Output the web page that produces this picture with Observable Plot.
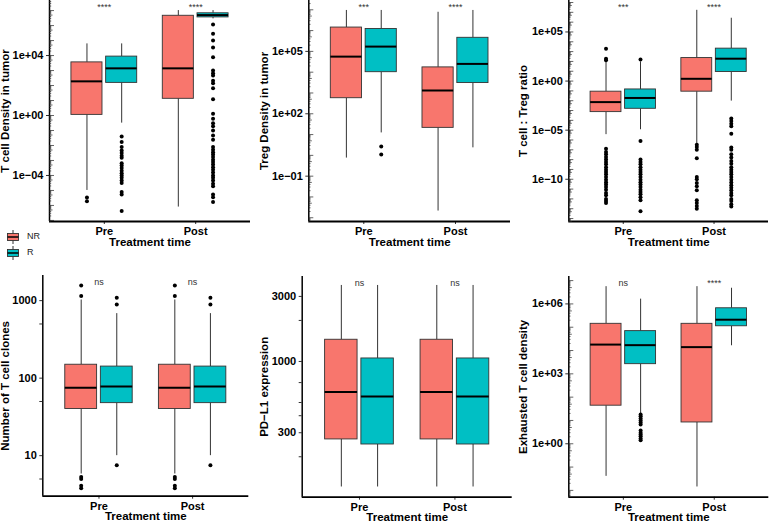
<!DOCTYPE html>
<html><head><meta charset="utf-8">
<script src="https://cdn.jsdelivr.net/npm/d3@7"></script>
<script src="https://cdn.jsdelivr.net/npm/@observablehq/plot@0.6"></script>
<style>
body{margin:0;background:#fff;font-family:"Liberation Sans",Arial,sans-serif;}
#fig{position:relative;width:769px;height:522px;overflow:hidden;background:#fff;}
.panel{position:absolute;}
.panel svg{overflow:visible;background:transparent;}
</style></head><body><div id="fig"></div>
<script>
// ---------- data ----------
const times = ["Pre", "Post"];
const groups = ["NR", "R"];
const groupColors = ["#F8766D", "#00BFC4"];
const xTitle = "Treatment time";

// box stats rows: [time, group, lowerWhisker, q1, median, q3, upperWhisker]
const tcellStats = [
  ["Pre", "NR", 1.0e-5, 1.1, 1.9e2, 3.5e3, 6.0e4],
  ["Pre", "R", 0.31, 1.5e2, 1.4e3, 8.5e3, 6.0e4],
  ["Post", "NR", 7.8e-7, 13, 1.4e3, 4.5e6, 1.0e7],
  ["Post", "R", 2.8e6, 3.5e6, 5.0e6, 6.6e6, 1.0e7]
];
const tcellOutliers = [
  ["Pre", "NR", [3.4e-6, 1.9e-6]],
  ["Pre", "R", [4.0e-2, 1.7e-2, 7.8e-3, 4.7e-3, 3.1e-3, 2.1e-3, 1.5e-3, 6.6e-4, 4.7e-4, 3.2e-4, 2.1e-4, 1.4e-4, 1.0e-4, 7.1e-5, 4.7e-5, 3.1e-5, 7.8e-6, 5.4e-6, 4.2e-7]],
  ["Post", "R", [1.2e6, 2.8e5, 1.0e5, 3.5e4, 7.8e3, 1.0e3, 6.6e2, 4.7e2, 2.1e2, 1.4e2, 66, 12, 1.3, 0.60, 0.31, 0.19, 0.10, 4.7e-2, 2.4e-2, 7.8e-3, 5.1e-3, 3.5e-3, 2.5e-3, 1.7e-3, 1.1e-3, 7.8e-4, 5.4e-4, 3.5e-4, 2.4e-4, 1.6e-4, 1.0e-4, 7.1e-5, 4.7e-5, 2.8e-5, 1.9e-5, 5.4e-6, 3.5e-6, 1.7e-6]]
];
const tcellSig = [["Pre", "****"], ["Post", "****"]];

const tregStats = [
  ["Pre", "NR", 0.74, 5.6e2, 5.6e4, 1.4e6, 9.3e6],
  ["Pre", "R", 12, 1.0e4, 1.7e5, 1.2e6, 9.3e6],
  ["Post", "NR", 2.1e-3, 21, 1.3e3, 1.7e4, 7.6e6],
  ["Post", "R", 2.3, 3.0e3, 2.5e4, 4.5e5, 9.3e6]
];
const tregOutliers = [["Pre", "R", [2.7, 1.1]]];
const tregSig = [["Pre", "***"], ["Post", "****"]];

const ratioStats = [
  ["Pre", "NR", 3.5e-6, 6.9e-4, 7.2e-3, 8.3e-2, 85],
  ["Pre", "R", 1.1e-5, 1.5e-3, 1.9e-2, 0.14, 89],
  ["Post", "NR", 4.3e-7, 8.3e-2, 1.7, 2.2e2, 1.6e7],
  ["Post", "R", 9.1e-3, 8.3, 1.9e2, 2.0e3, 2.5e6]
];
const ratioOutliers = [
  ["Pre", "NR", [2.0e3, 1.9e2, 1.3e2, 1.3e-7, 5.9e-8, 3.5e-8, 1.9e-8, 1.0e-8, 5.6e-9, 3.3e-9, 1.7e-9, 9.5e-10, 5.4e-10, 3.2e-10, 1.7e-10, 9.1e-11, 5.1e-11, 3.0e-11, 1.6e-11, 8.7e-12, 4.0e-12, 2.3e-12, 1.0e-12, 6.0e-13, 3.8e-13]],
  ["Pre", "R", [1.6e2, 7.8e-7, 1.0e-8, 5.6e-9, 3.3e-9, 1.7e-9, 9.5e-10, 5.4e-10, 3.2e-10, 1.7e-10, 9.1e-11, 5.1e-11, 3.0e-11, 1.6e-11, 8.7e-12, 5.0e-12, 2.9e-12, 1.5e-12, 7.1e-13, 5.4e-14]],
  ["Post", "NR", [3.3e-7, 1.9e-7, 1.0e-7, 1.4e-8, 1.7e-10, 9.8e-11, 4.1e-11, 1.9e-11, 7.4e-12, 7.1e-13, 3.8e-13, 1.9e-13, 1.0e-13]],
  ["Post", "R", [1.5e-4, 8.5e-5, 4.6e-5, 2.5e-5, 4.4e-6, 1.7e-7, 1.0e-7, 3.5e-8, 1.6e-8, 7.1e-9, 3.9e-9, 1.7e-9, 9.5e-10, 5.4e-10, 3.2e-10, 1.7e-10, 9.1e-11, 4.8e-11, 2.4e-11, 1.4e-11, 7.4e-12, 3.9e-12, 2.3e-12, 1.0e-12, 6.0e-13, 2.8e-13, 1.7e-13]]
];
const ratioSig = [["Pre", "***"], ["Post", "****"]];

const clonesStats = [
  ["Pre", "NR", 5.8, 40, 75, 149, 1020],
  ["Pre", "R", 10, 47.6, 78, 141, 680],
  ["Post", "NR", 5.8, 40, 75, 149, 1020],
  ["Post", "R", 10, 47.6, 78, 141, 680]
];
const clonesOutliers = [
  ["Pre", "NR", [1570, 1150, 5.3, 5.0, 4.1, 3.8]],
  ["Pre", "R", [1090, 890, 7.5]],
  ["Post", "NR", [1570, 1150, 5.3, 5.0, 4.1, 3.8]],
  ["Post", "R", [1090, 890, 7.5]]
];
const clonesSig = [["Pre", "ns"], ["Post", "ns"]];

const pdl1Stats = [
  ["Pre", "NR", 120, 268, 596, 1443, 3610],
  ["Pre", "R", 120, 246, 553, 1052, 3610],
  ["Post", "NR", 120, 268, 596, 1443, 3610],
  ["Post", "R", 120, 246, 553, 1052, 3610]
];
const pdl1Outliers = [];
const pdl1Sig = [["Pre", "ns"], ["Post", "ns"]];

const exhStats = [
  ["Pre", "NR", 4.0e-2, 43, 1.8e4, 1.4e5, 5.5e6],
  ["Pre", "R", 19.5, 2.6e3, 1.7e4, 6.8e4, 1.6e6],
  ["Post", "NR", 1.4e-2, 8.2, 1.4e4, 1.4e5, 5.5e6],
  ["Post", "R", 1.6e4, 1.1e5, 2.1e5, 6.5e5, 4.7e6]
];
const exhOutliers = [["Pre", "R", [18, 15, 12, 10, 8.2, 6.7, 3.7, 3.0, 2.5, 2.1, 1.7, 1.4]]];
const exhSig = [["Pre", "ns"], ["Post", "****"]];

// tick labels
const tcellTicks = [1e-4, 1, 1e4];
const tregTicks = [1e-1, 1e2, 1e5];
const ratioTicks = [1e-10, 1e-5, 1, 1e5];
const clonesTicks = [10, 100, 1000];
const clonesMinor = [5, 50, 500];
const pdl1Ticks = [300, 1000, 3000];
const pdl1Minor = [200, 400, 500, 700, 2000];
const exhTicks = [1, 1e3, 1e6];

// ---------- helpers ----------
const xDomain = [0.4, 2.6];
const DODGE = 0.19, HALF = 0.17;
const pos = (t, g) => times.indexOf(t) + 1 + (g === groups[0] ? -DODGE : DODGE);
const sci = d => { const e = Math.round(Math.log10(d)); return "1e" + (e < 0 ? "\u2212" : "+") + String(Math.abs(e)).padStart(2, "0"); };
const plain = d => String(d);
function logTicks(domain) {
  const out = [];
  const e0 = Math.floor(Math.log10(domain[0])), e1 = Math.ceil(Math.log10(domain[1]));
  for (let e = e0; e <= e1; e++) for (let k = 1; k <= 9; k++) {
    const v = k * Math.pow(10, e);
    if (v >= domain[0] && v <= domain[1]) out.push({v, len: k === 1 ? 5 : k === 5 ? 3.5 : 2.2});
  }
  return out;
}

const fig = document.getElementById("fig");

function panel(cfg) {
  const {left, top, width, height, mL, mR, mT, mB, domain, majors, fmt, minorOut, inside,
         label, labelOffset, stats, outliers, sig, sigDy, xTitleDy} = cfg;
  const fw = width - mL - mR;
  const boxes = stats.map(([t, g, lo, q1, med, q3, hi]) => ({t, g, lo, q1, med, q3, hi, x: pos(t, g)}));
  const dots = outliers.flatMap(([t, g, vals]) => vals.map(v => ({t, g, v, x: pos(t, g)})));
  const marks = [
    Plot.ruleX(boxes, {x: "x", y1: "lo", y2: "q1", stroke: "#333", strokeWidth: 1}),
    Plot.ruleX(boxes, {x: "x", y1: "q3", y2: "hi", stroke: "#333", strokeWidth: 1}),
    Plot.rect(boxes, {x1: d => d.x - HALF, x2: d => d.x + HALF, y1: "q1", y2: "q3", fill: "g", stroke: "#333", strokeWidth: 0.9}),
    Plot.ruleY(boxes, {y: "med", x1: d => d.x - HALF, x2: d => d.x + HALF, stroke: "#000", strokeWidth: 2}),
    Plot.dot(dots, {x: "x", y: "v", r: 2, fill: "#000", stroke: null}),
    Plot.axisY(majors, {anchor: "left", tickSize: 3, tickPadding: 3, tickFormat: fmt, fontWeight: "bold", fontSize: 11,
      stroke: "#333", fill: "#000", label: null}),
    Plot.text([label], {frameAnchor: "left", dx: -labelOffset, rotate: -90, lineAnchor: "top", textAnchor: "middle",
      text: d => d, fontWeight: "bold", fontSize: 11.5, fill: "#000"}),
    Plot.axisX([1, 2], {anchor: "bottom", tickSize: 3, tickPadding: 2.5, tickFormat: d => times[d - 1],
      fontWeight: "bold", fontSize: 11, stroke: "#333", fill: "#000", label: null}),
    Plot.text([xTitle], {frameAnchor: "bottom", dy: xTitleDy, text: d => d, fontWeight: "bold", fontSize: 11.5, lineAnchor: "middle", fill: "#000"}),
    Plot.text(sig, {x: d => times.indexOf(d[0]) + 1, text: d => d[1], frameAnchor: "top", dy: sigDy, fontSize: 9, fill: "#333", lineAnchor: "middle"}),
    Plot.ruleX([xDomain[0]], {stroke: "#000", strokeWidth: 1.5}),
    Plot.ruleY([domain[0]], {stroke: "#000", strokeWidth: 1.8})
  ];
  if (minorOut) marks.push(Plot.ruleY(minorOut, {insetLeft: -3, insetRight: fw, stroke: "#333", strokeWidth: 1}));
  if (inside) {
    const lt = logTicks(domain);
    for (const len of [5, 3.5, 2.2]) {
      marks.push(Plot.ruleY(lt.filter(d => d.len === len), {y: "v", insetRight: fw - len, stroke: "#222", strokeWidth: 0.7}));
    }
  }
  const svg = Plot.plot({
    width, height, marginLeft: mL, marginRight: mR, marginTop: mT, marginBottom: mB,
    x: {type: "linear", domain: xDomain},
    y: {type: "log", domain},
    color: {domain: groups, range: groupColors},
    style: {fontFamily: "'Liberation Sans', Arial, sans-serif", fontSize: "11px", background: "transparent", overflow: "visible", color: "#000"},
    marks
  });
  const div = document.createElement("div");
  div.className = "panel";
  div.style.left = left + "px";
  div.style.top = top + "px";
  div.appendChild(svg);
  fig.appendChild(div);
}

panel({left: 0, top: 0, width: 255, height: 250, mL: 49, mR: 5, mT: 0, mB: 29,
  domain: [8.5e-8, 4.7e7], majors: tcellTicks, fmt: sci, inside: true,
  label: "T cell Density in tumor", labelOffset: 48.5, stats: tcellStats, outliers: tcellOutliers,
  sig: tcellSig, sigDy: 7, xTitleDy: 21});
panel({left: 255, top: 0, width: 256, height: 250, mL: 53.3, mR: 1, mT: 0, mB: 29,
  domain: [6.6e-4, 2.8e7], majors: tregTicks, fmt: sci, inside: true,
  label: "Treg Density in tumor", labelOffset: 48.5, stats: tregStats, outliers: tregOutliers,
  sig: tregSig, sigDy: 7, xTitleDy: 21});
panel({left: 510, top: 0, width: 259, height: 250, mL: 58.3, mR: 1, mT: 0, mB: 29,
  domain: [5e-15, 1.6e8], majors: ratioTicks, fmt: sci, inside: true,
  label: "T cell : Treg ratio", labelOffset: 49.5, stats: ratioStats, outliers: ratioOutliers,
  sig: ratioSig, sigDy: 7, xTitleDy: 21});
panel({left: 0, top: 260, width: 255, height: 262, mL: 42.3, mR: 6.7, mT: 15, mB: 26.3,
  domain: [3.0, 2110], majors: clonesTicks, fmt: plain, minorOut: clonesMinor,
  label: "Number of T cell clones", labelOffset: 42, stats: clonesStats, outliers: clonesOutliers,
  sig: clonesSig, sigDy: 7, xTitleDy: 20.5});
panel({left: 255, top: 260, width: 257, height: 262, mL: 46.7, mR: 0.3, mT: 16, mB: 25.3,
  domain: [101, 4200], majors: pdl1Ticks, fmt: plain, minorOut: pdl1Minor,
  label: "PD\u2212L1 expression", labelOffset: 42.5, stats: pdl1Stats, outliers: pdl1Outliers,
  sig: pdl1Sig, sigDy: 6.5, xTitleDy: 20.5});
panel({left: 510, top: 260, width: 259, height: 262, mL: 58.3, mR: 0.7, mT: 16, mB: 25.3,
  domain: [5.1e-3, 1.5e7], majors: exhTicks, fmt: sci, inside: true,
  label: "Exhausted T cell density", labelOffset: 49.5, stats: exhStats, outliers: exhOutliers,
  sig: exhSig, sigDy: 6.5, xTitleDy: 20.5});

// ---------- legend ----------
const ns = "http://www.w3.org/2000/svg";
const leg = document.createElementNS(ns, "svg");
leg.setAttribute("width", 50); leg.setAttribute("height", 36);
leg.style.position = "absolute"; leg.style.left = "0px"; leg.style.top = "226px";
groups.forEach((g, i) => {
  const cy = 11 + 16 * i;
  const mk = (tag, attrs) => { const e = document.createElementNS(ns, tag); for (const k in attrs) e.setAttribute(k, attrs[k]); leg.appendChild(e); return e; };
  mk("line", {x1: 13, x2: 13, y1: cy - 7, y2: cy + 7, stroke: "#333", "stroke-width": 1});
  mk("rect", {x: 7.5, y: cy - 3.5, width: 11, height: 7, fill: groupColors[i], stroke: "#333", "stroke-width": 0.9});
  mk("line", {x1: 7.5, x2: 18.5, y1: cy, y2: cy, stroke: "#000", "stroke-width": 1.5});
  const t = mk("text", {x: 27, y: cy, "dominant-baseline": "middle", "font-size": 9, fill: "#222", "font-family": "'Liberation Sans', Arial, sans-serif"});
  t.textContent = g;
});
fig.appendChild(leg);
</script></body></html>
